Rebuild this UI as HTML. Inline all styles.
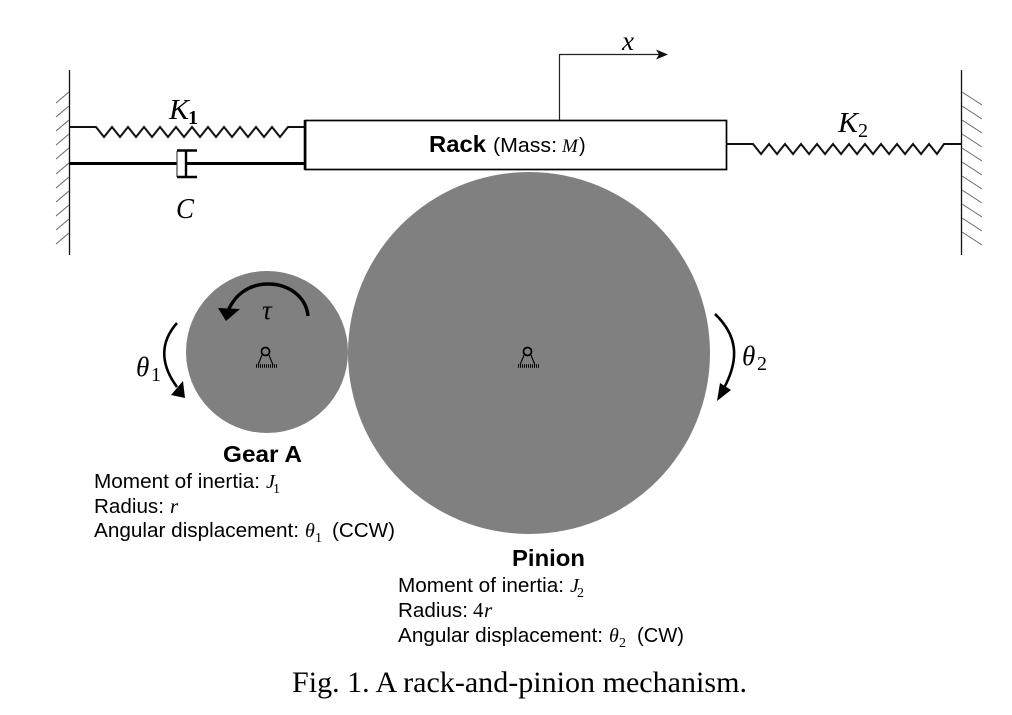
<!DOCTYPE html>
<html><head><meta charset="utf-8"><style>
html,body{margin:0;padding:0;background:#fff}
svg{display:block;filter:blur(.3px)}
.s{font-family:"Liberation Sans",sans-serif;fill:#000}
.m{font-family:"Liberation Serif",serif;font-style:italic;fill:#000}
.i{font-family:"Liberation Serif",serif;font-style:italic;fill:#000}
.d{font-family:"Liberation Serif",serif;fill:#000}
</style></head><body>
<svg width="1012" height="715" viewBox="0 0 1012 715" xmlns="http://www.w3.org/2000/svg">
<rect width="1012" height="715" fill="#fff"/>

<!-- walls -->
<path d="M69.5 70V255M961.5 70V255" stroke="#111" stroke-width="1.3" fill="none"/>
<path d="M69 92l-13 11M69 106l-13 11M69 120l-13 11M69 134l-13 11M69 148l-13 11M69 163l-13 11M69 177l-13 11M69 191l-13 11M69 205l-13 11M69 219l-13 11M69 233l-13 11" stroke="#666" stroke-width="1" fill="none"/>
<path d="M962 92l20 13M962 106l20 13M962 120l20 13M962 134l20 13M962 148l20 13M962 162l20 13M962 176l20 13M962 190l20 13M962 204l20 13M962 218l20 13M962 232l20 13" stroke="#666" stroke-width="1" fill="none"/>

<!-- K1 spring -->
<path d="M69 127H96L104 137L112 127L120 137L128 127L136 137L144 127L152 137L160 127L168 137L176 127L184 137L192 127L200 137L208 127L216 137L224 127L232 137L240 127L248 137L256 127L264 137L272 127L280 137L288 127H305" stroke="#111" stroke-width="2" fill="none"/>

<!-- damper -->
<path d="M69 163.5H177M187 163.5H305" stroke="#000" stroke-width="3" fill="none"/>
<path d="M177 151V177" stroke="#444" stroke-width="1.2" fill="none"/>
<path d="M177 150.5H197M177 177H197M186 150V178" stroke="#000" stroke-width="2.4" fill="none"/>

<!-- rack -->
<rect x="305.5" y="120.5" width="421" height="49" fill="#fff" stroke="#000" stroke-width="1.7"/>
<path d="M305 120V170" stroke="#000" stroke-width="2.6"/>

<!-- K2 spring -->
<path d="M727 144H753L761 154L769 144L777 154L785 144L793 154L801 144L809 154L817 144L825 154L833 144L841 154L849 144L857 154L865 144L873 154L881 144L889 154L897 144L905 154L913 144L921 154L929 144L937 154L944 144H961" stroke="#111" stroke-width="2" fill="none"/>

<!-- x arrow -->
<path d="M559.5 120V54.5H660" stroke="#222" stroke-width="1.2" fill="none"/>
<path d="M668 54.5L656 49.5L659 54.5L656 59.5Z" fill="#111"/>

<!-- disks -->
<circle cx="267" cy="352" r="81" fill="#808080"/>
<circle cx="529" cy="353" r="181" fill="#808080"/>

<!-- pivots -->
<g fill="none" stroke="#000">
<circle cx="265.5" cy="351.5" r="4" stroke-width="1.8"/>
<path d="M262 355L258 365M269 355L273 365" stroke-width="1.1"/>
<path d="M256 366H278" stroke-width="3.5" stroke-dasharray="1 1"/>
</g>
<g fill="none" stroke="#000">
<circle cx="527.5" cy="351.5" r="4" stroke-width="1.8"/>
<path d="M524 355L520 365M531 355L535 365" stroke-width="1.1"/>
<path d="M518 366H540" stroke-width="3.5" stroke-dasharray="1 1"/>
</g>

<!-- tau arrow -->
<path d="M308 316C306 296 288 284 268 284C250 284 235 294 228 311" stroke="#000" stroke-width="3.4" fill="none"/>
<path d="M218 308L240 309L226 321Z" fill="#000"/>
<text x="262" y="319" class="m" font-size="27">τ</text>

<!-- theta1 arrow -->
<path d="M177 323C160 342 160 364 177 387" stroke="#000" stroke-width="2.6" fill="none"/>
<path d="M183 381L185 398L171 395Z" fill="#000"/>
<!-- theta2 arrow -->
<path d="M715 314C737 335 740 358 724 388" stroke="#000" stroke-width="2.6" fill="none"/>
<path d="M720 383L731 390L717 401Z" fill="#000"/>

<!-- math labels -->
<text x="169" y="119" class="m" font-size="28" textLength="20" lengthAdjust="spacingAndGlyphs">K</text><text x="188" y="124" class="d" font-size="20" font-weight="bold">1</text>
<text x="838" y="132" class="m" font-size="28" textLength="20" lengthAdjust="spacingAndGlyphs">K</text><text x="858" y="137" class="d" font-size="20">2</text>
<text x="176" y="218" class="m" font-size="28" textLength="18" lengthAdjust="spacingAndGlyphs">C</text>
<text x="622" y="50" class="m" font-size="27">x</text>
<text x="136" y="376" class="m" font-size="27">θ</text><text x="151" y="381" class="d" font-size="20">1</text>
<text x="742" y="365" class="m" font-size="27">θ</text><text x="757" y="370" class="d" font-size="20">2</text>

<!-- rack label -->
<text x="429" y="152" class="s" font-size="23" font-weight="bold" textLength="57" lengthAdjust="spacingAndGlyphs">Rack</text>
<text x="493" y="152" class="s" font-size="20" textLength="64" lengthAdjust="spacingAndGlyphs">(Mass:</text>
<text x="562" y="152" class="i" font-size="19">M</text>
<text x="579" y="152" class="s" font-size="20">)</text>

<!-- Gear A -->
<text x="223" y="462" class="s" font-size="23.5" font-weight="bold" textLength="79" lengthAdjust="spacingAndGlyphs">Gear A</text>
<text x="94" y="488" class="s" font-size="20.5" textLength="166" lengthAdjust="spacingAndGlyphs">Moment of inertia:</text>
<text x="266" y="488" class="i" font-size="20">J</text><text x="273" y="493" class="d" font-size="14">1</text>
<text x="94" y="513" class="s" font-size="20.5" textLength="70" lengthAdjust="spacingAndGlyphs">Radius:</text>
<text x="170" y="513" class="i" font-size="21">r</text>
<text x="94" y="537" class="s" font-size="20.5" textLength="205" lengthAdjust="spacingAndGlyphs">Angular displacement:</text>
<text x="305" y="537" class="i" font-size="20">θ</text><text x="315" y="542" class="d" font-size="14">1</text>
<text x="332" y="537" class="s" font-size="20.5" textLength="63" lengthAdjust="spacingAndGlyphs">(CCW)</text>

<!-- Pinion -->
<text x="512" y="566" class="s" font-size="23.5" font-weight="bold" textLength="73" lengthAdjust="spacingAndGlyphs">Pinion</text>
<text x="398" y="592" class="s" font-size="20.5" textLength="166" lengthAdjust="spacingAndGlyphs">Moment of inertia:</text>
<text x="570" y="592" class="i" font-size="20">J</text><text x="577" y="597" class="d" font-size="14">2</text>
<text x="398" y="617" class="s" font-size="20.5" textLength="70" lengthAdjust="spacingAndGlyphs">Radius:</text>
<text x="473" y="617" class="d" font-size="21">4</text><text x="484" y="617" class="i" font-size="21">r</text>
<text x="398" y="642" class="s" font-size="20.5" textLength="205" lengthAdjust="spacingAndGlyphs">Angular displacement:</text>
<text x="609" y="642" class="i" font-size="20">θ</text><text x="619" y="647" class="d" font-size="14">2</text>
<text x="637" y="642" class="s" font-size="20.5" textLength="47" lengthAdjust="spacingAndGlyphs">(CW)</text>

<!-- caption -->
<text x="292" y="692" class="d" font-size="29.5" textLength="455" lengthAdjust="spacingAndGlyphs">Fig. 1. A rack-and-pinion mechanism.</text>
</svg>
</body></html>
